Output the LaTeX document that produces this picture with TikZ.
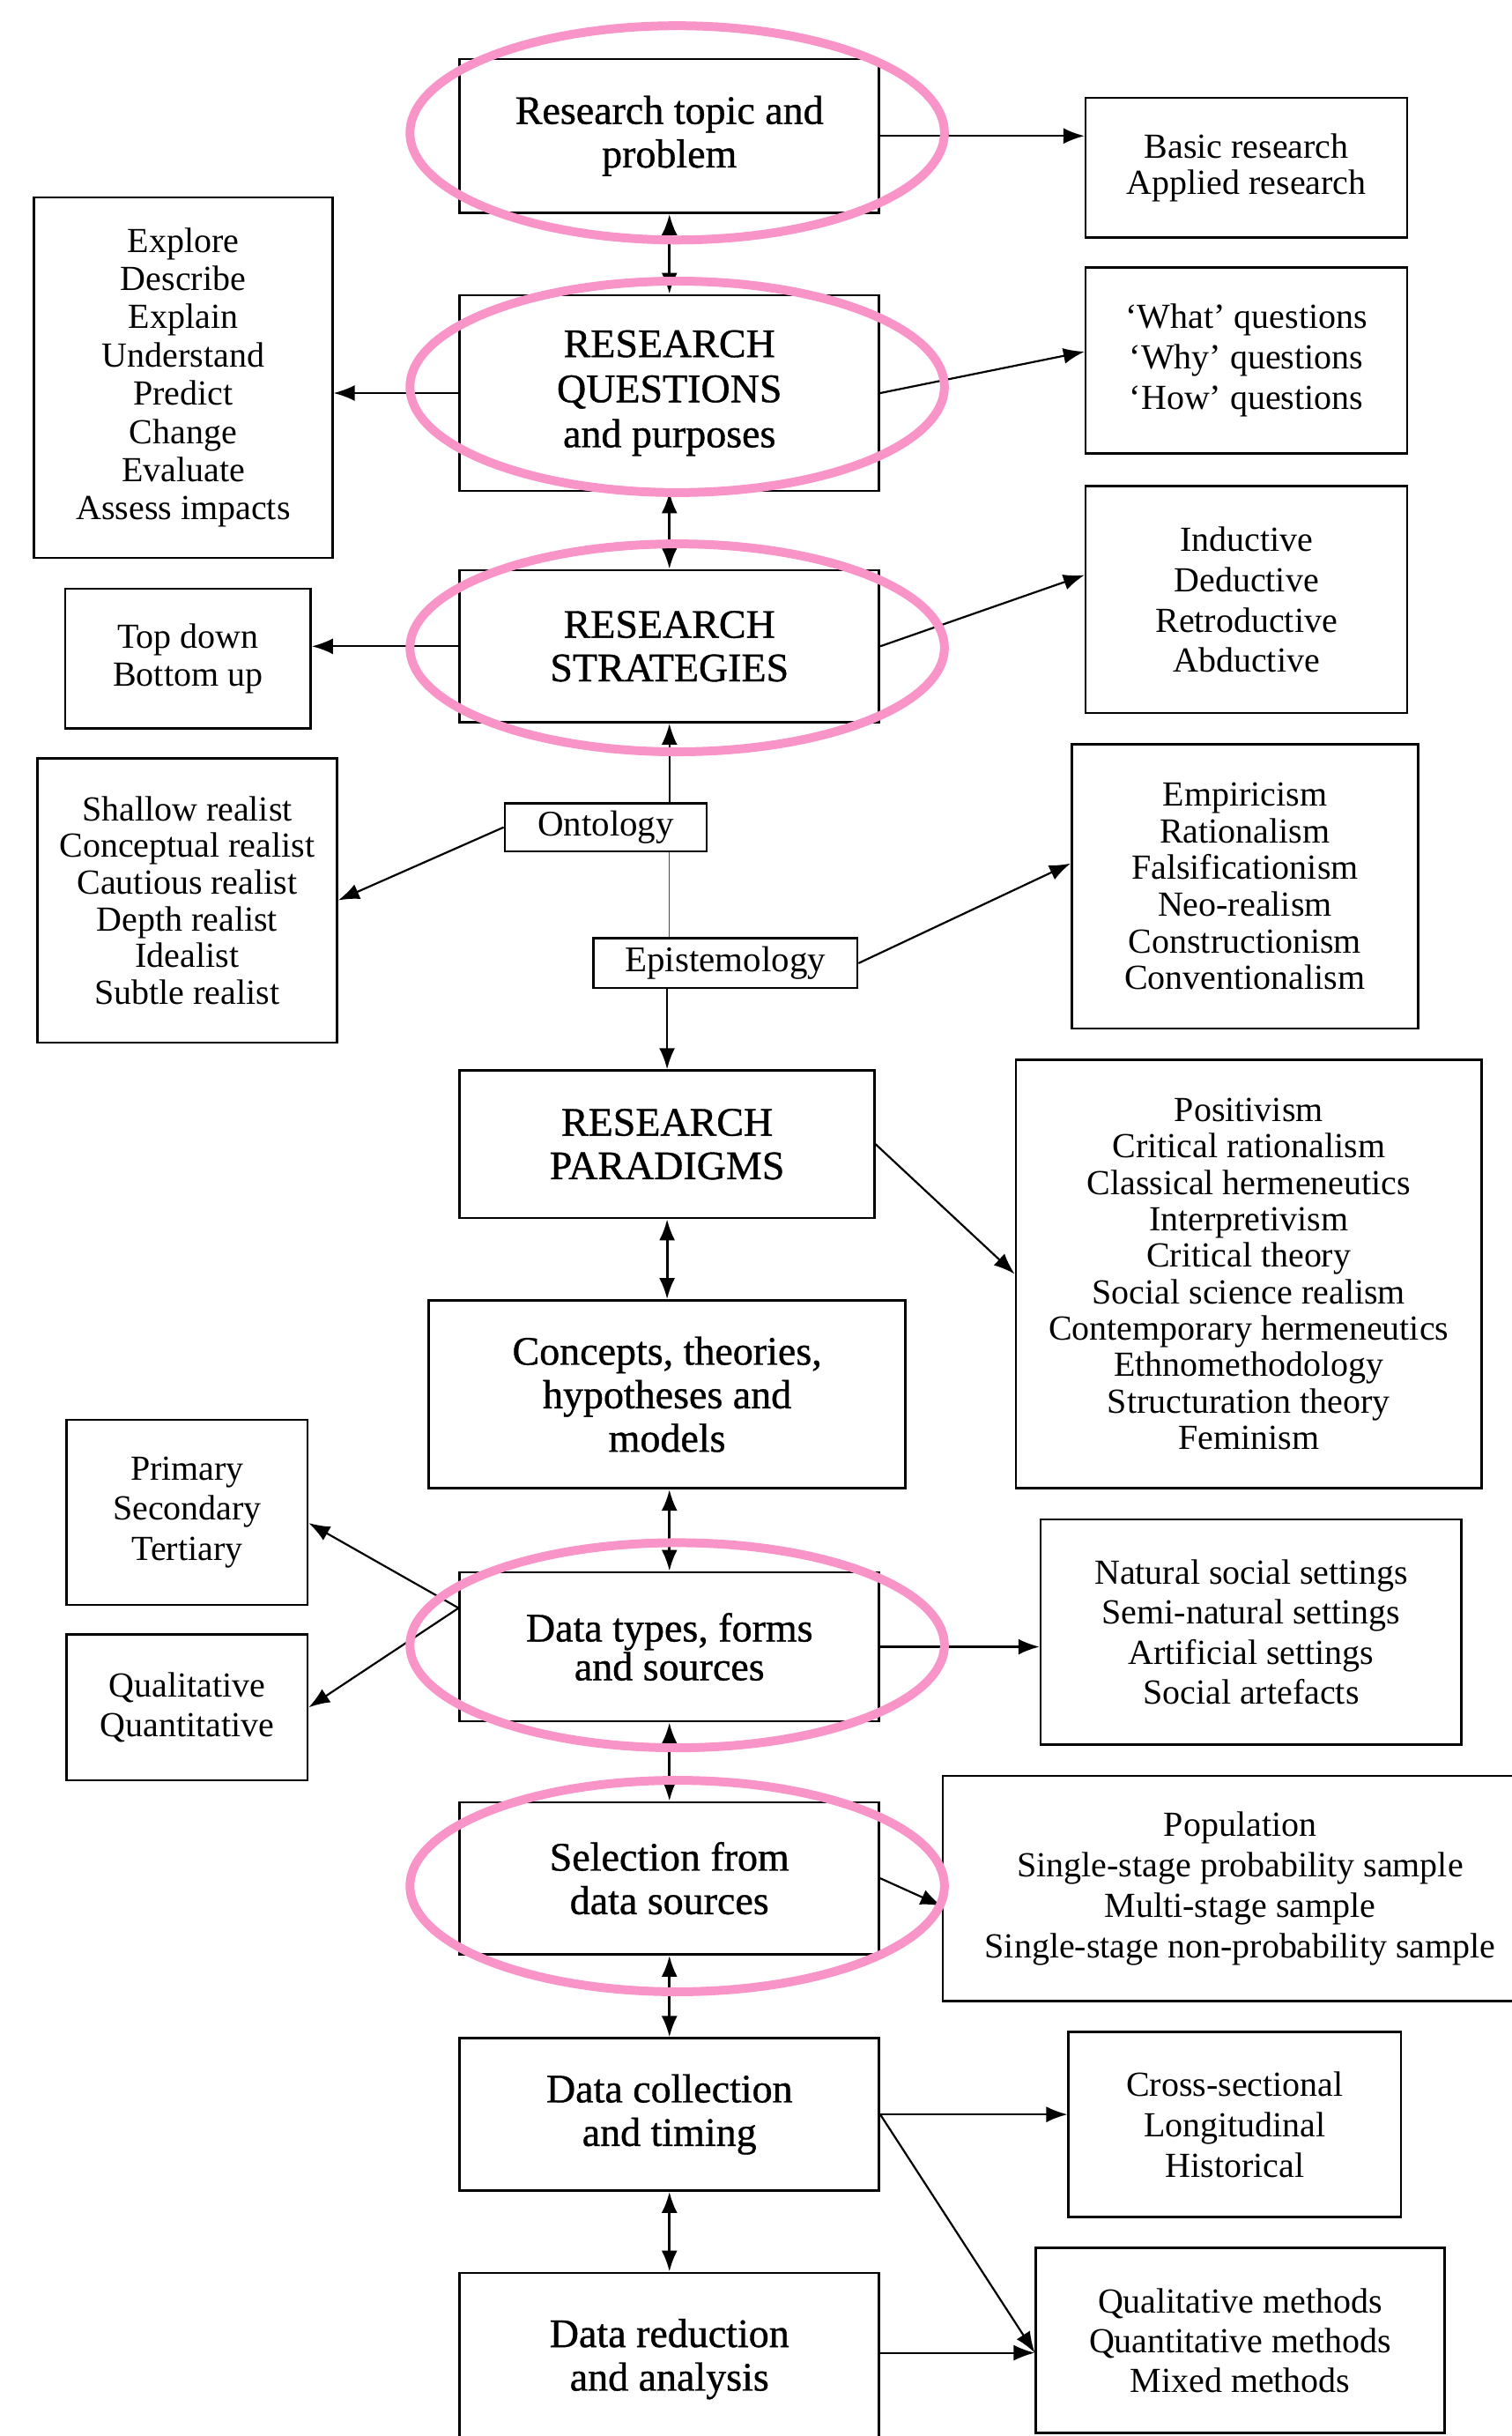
\documentclass[tikz,border=0pt]{standalone}
\usepackage{fontspec}
\setmainfont{Liberation Serif}
\newfontfamily\MainFam{Liberation Serif}[FakeBold=0.8]
\usetikzlibrary{arrows.meta,calc}
\definecolor{ringpink}{RGB}{248,148,200}
\newcommand\MyMain[1]{\MainFam\fontsize{23pt}{#1}\selectfont}
\newcommand\MySide[1]{\fontsize{20pt}{#1}\selectfont}
% \RBox{name}{x1}{y1}{x2}{y2}{style}{text}
\newcommand\RBox[7]{\node[#6, minimum width={(#4-#2)*0.8818pt}, minimum height={(#5-#3)*0.8818pt}] (#1) at ({(#2+#4)/2},{(#3+#5)/2}) {#7};}
\tikzset{
  box/.style={draw, line width=1.3pt, inner sep=0pt, align=center},
  mainbox/.style={box},
  sidebox/.style={box},
  arr/.style={line width=1.1pt, -{Latex[length=12pt,width=9pt]}},
  darr/.style={line width=1.5pt, {Latex[length=12pt,width=9pt]}-{Latex[length=12pt,width=9pt]}},
  thinline/.style={line width=0.5pt, draw=black!70},
  ring/.style={draw=ringpink, line width=5pt},
}
\begin{document}
\begin{tikzpicture}[x=0.8818pt,y=-0.8818pt]
\fill[white] (0,0) rectangle (973,1568);
\useasboundingbox (0,0) rectangle (973,1568);

% main column
\RBox{b1}{296}{38}{566}{137}{mainbox, font={\MyMain{24.7pt}}}{Research topic and\\problem}
\RBox{b2}{296}{190}{566}{316}{mainbox, font={\MyMain{25.6pt}}}{RESEARCH\\QUESTIONS\\and purposes}
\RBox{b3}{296}{367}{566}{465}{mainbox, font={\MyMain{24.7pt}}}{RESEARCH\\STRATEGIES}
\RBox{onto}{325}{517}{455}{548}{sidebox, font={\fontsize{20.5pt}{22pt}\selectfont}}{Ontology}
\RBox{epi}{382}{604}{552}{636}{sidebox, font={\fontsize{20.5pt}{22pt}\selectfont}}{Epistemology}
\RBox{b4}{296}{689}{563}{784}{mainbox, font={\MyMain{24.7pt}}}{RESEARCH\\PARADIGMS}
\RBox{b5}{276}{837}{583}{958}{mainbox, font={\MyMain{24.7pt}}}{Concepts, theories,\\hypotheses and\\models}
\RBox{b6}{296}{1012}{566}{1108}{mainbox, font={\MyMain{22pt}}}{Data types, forms\\and sources}
\RBox{b7}{296}{1160}{566}{1258}{mainbox, font={\MyMain{24.7pt}}}{Selection from\\data sources}
\RBox{b8}{296}{1312}{566}{1410}{mainbox, font={\MyMain{24.7pt}}}{Data collection\\and timing}
\RBox{b9}{296}{1463}{566}{1574}{mainbox, font={\MyMain{24.7pt}}}{Data reduction\\and analysis}

% right column
\RBox{r1}{699}{63}{906}{153}{sidebox, font={\MySide{20.3pt}}}{Basic research\\Applied research}
\RBox{r2}{699}{172}{906}{292}{sidebox, font={\MySide{22.9pt}}}{‘What’ questions\\‘Why’ questions\\‘How’ questions}
\RBox{r3}{699}{313}{906}{459}{sidebox, font={\MySide{22.9pt}}}{Inductive\\Deductive\\Retroductive\\Abductive}
\RBox{r4}{690}{479}{913}{662}{sidebox, font={\MySide{20.8pt}}}{Empiricism\\Rationalism\\Falsificationism\\Neo-realism\\Constructionism\\Conventionalism}
\RBox{r5}{654}{682}{954}{958}{sidebox, font={\MySide{20.7pt}}}{Positivism\\Critical rationalism\\Classical hermeneutics\\Interpretivism\\Critical theory\\Social science realism\\Contemporary hermeneutics\\Ethnomethodology\\Structuration theory\\Feminism}
\RBox{r6}{670}{978}{941}{1123}{sidebox, font={\MySide{22.6pt}}}{Natural social settings\\Semi-natural settings\\Artificial settings\\Social artefacts}
\RBox{r7}{607}{1143}{990}{1288}{sidebox, font={\MySide{23pt}}}{Population\\Single-stage probability sample\\Multi-stage sample\\Single-stage non-probability sample}
\RBox{r8}{688}{1308}{902}{1427}{sidebox, font={\MySide{23pt}}}{Cross-sectional\\Longitudinal\\Historical}
\RBox{r9}{667}{1447}{930}{1566}{sidebox, font={\MySide{22.5pt}}}{Qualitative methods\\Quantitative methods\\Mixed methods}

% left column
\RBox{l1}{22}{127}{214}{359}{sidebox, font={\MySide{21.7pt}}}{Explore\\Describe\\Explain\\Understand\\Predict\\Change\\Evaluate\\Assess impacts}
\RBox{l2}{42}{379}{200}{469}{sidebox, font={\MySide{21.2pt}}}{Top down\\Bottom up}
\RBox{l3}{24}{488}{217}{671}{sidebox, font={\MySide{20.8pt}}}{Shallow realist\\Conceptual realist\\Cautious realist\\Depth realist\\Idealist\\Subtle realist}
\RBox{l4}{43}{914}{198}{1033}{sidebox, font={\MySide{22.9pt}}}{Primary\\Secondary\\Tertiary}
\RBox{l5}{43}{1052}{198}{1146}{sidebox, font={\MySide{22.9pt}}}{Qualitative\\Quantitative}

% connectors
\draw[arr] (b1.east) -- (b1.east -| r1.west);
\draw[darr] (b2.north) -- (b1.south);
\draw[arr] (b2.west) -- (b2.west -| l1.east);
\draw[arr] (b2.east) -- ([yshift=5pt]r2.west);
\draw[darr] (b2.south) -- (b3.north);
\draw[arr] (b3.west) -- (b3.west -| l2.east);
\draw[arr] (b3.east) -- ([yshift=14pt]r3.west);
\draw[arr] (onto.north -| b3.south) -- (b3.south);
\draw[thinline] (onto.south -| b3.south) -- (epi.north -| b3.south);
\draw[arr] (onto.west) -- (l3.east);
\draw[arr] (epi.east) -- ([yshift=13pt]r4.west);
\draw[arr] (epi.south -| b4.north) -- (b4.north);
\draw[arr] (b4.east) -- (r5.west);
\draw[darr] (b4.south) -- (b4.south |- b5.north);
\draw[darr] (b5.south -| b6.north) -- (b6.north);
\coordinate (b6l) at ([yshift=22pt]b6.west);
\draw[arr] (b6l) -- ([yshift=-6pt]l4.east);
\draw[arr] (b6l) -- (l5.east);
\draw[arr] (b6.east) -- (b6.east -| r6.west);
\draw[darr] (b6.south) -- (b7.north);
\draw[arr] (b7.east) -- ([yshift=-10pt]r7.west);
\draw[darr] (b7.south) -- (b8.north);
\draw[arr] (b8.east) -- (b8.east -| r8.west);
\coordinate (r9in) at ([yshift=-7pt]r9.west);
\draw[arr] (b8.east) -- (r9in);
\draw[arr] (b9.east |- r9in) -- (r9in);
\draw[darr] (b8.south) -- (b9.north);

% pink rings
\draw[ring] (436,85.5) ellipse [x radius=151.7pt, y radius=60.8pt];
\draw[ring] (436,249) ellipse [x radius=151.7pt, y radius=60pt];
\draw[ring] (436,417) ellipse [x radius=151.7pt, y radius=59pt];
\draw[ring] (436,1059) ellipse [x radius=151.7pt, y radius=58.2pt];
\draw[ring] (436,1214) ellipse [x radius=151.7pt, y radius=60pt];
\end{tikzpicture}
\end{document}
